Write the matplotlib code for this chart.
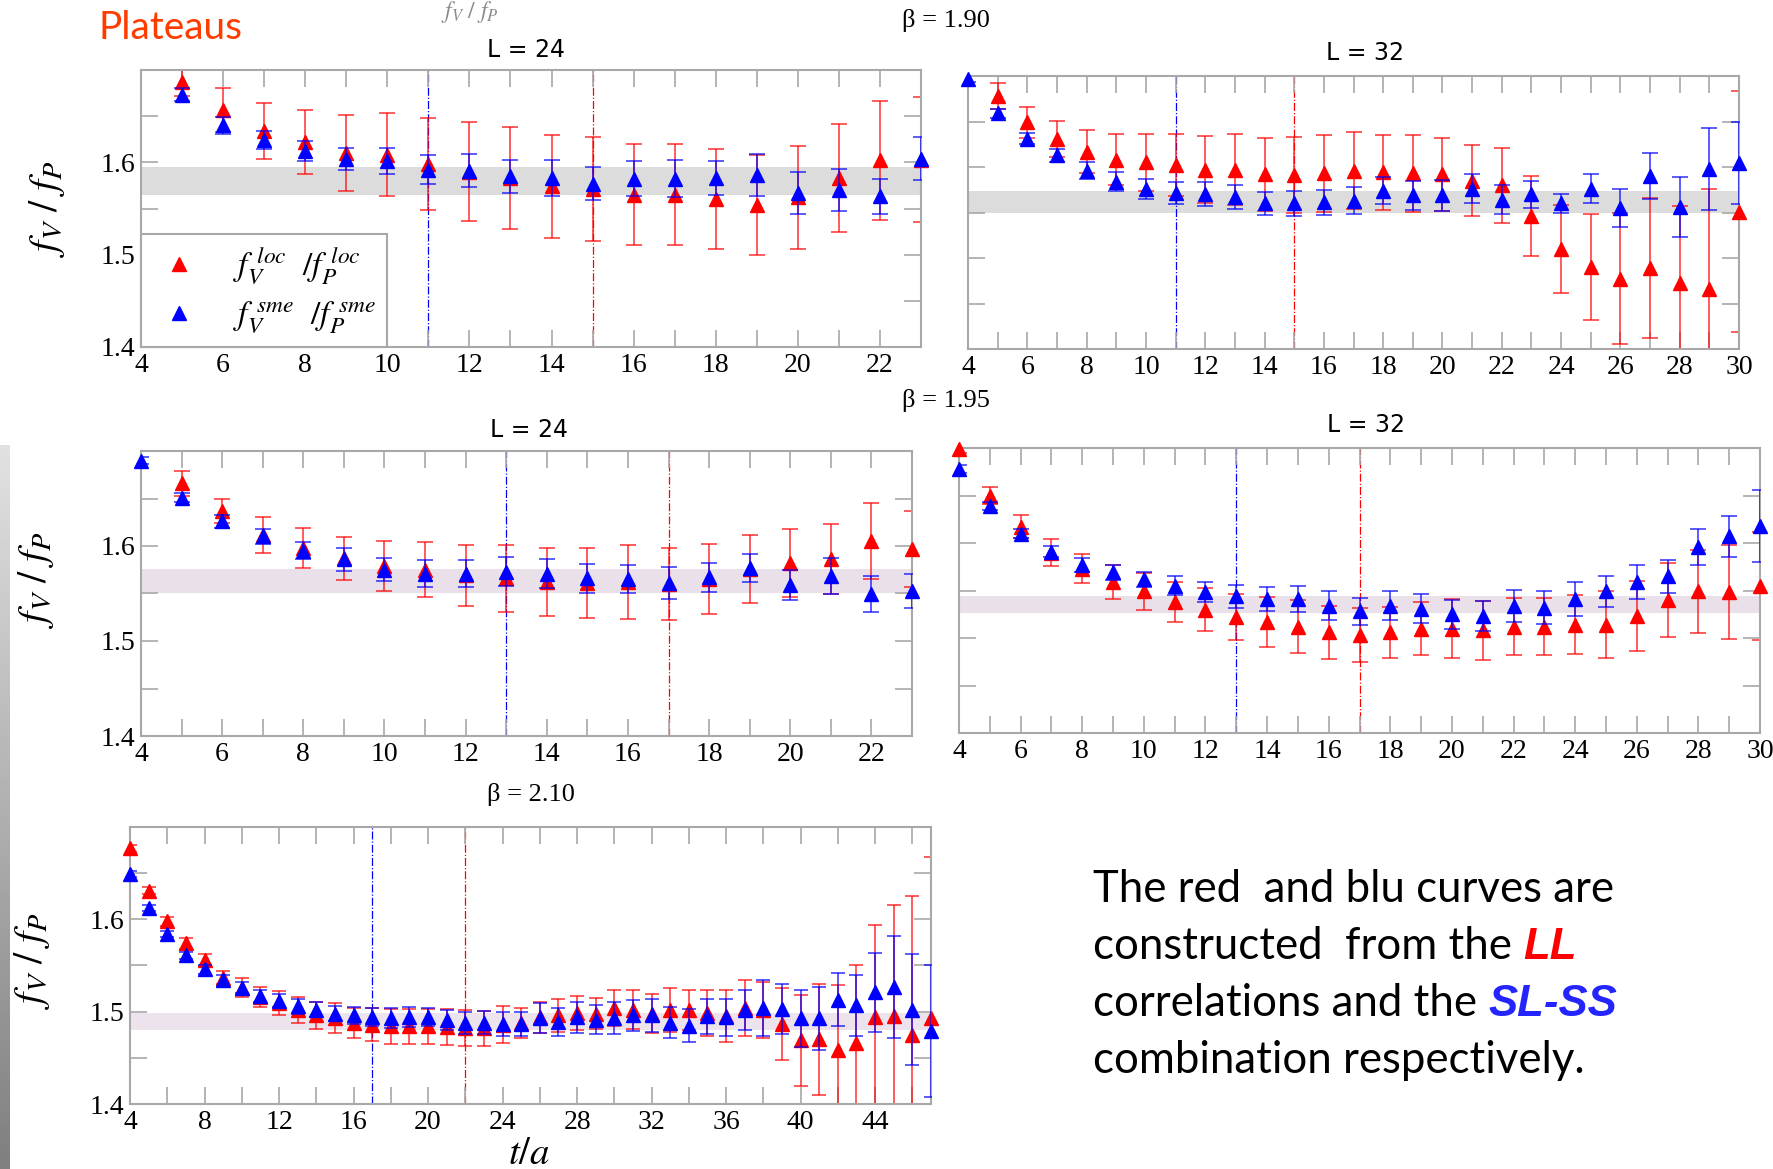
import numpy as np
import matplotlib.pyplot as plt
from matplotlib.lines import Line2D

W, H = 1773, 1169
plt.rcParams['mathtext.fontset'] = 'stix'

# beta = 1.90, L = 24
t_a = list(range(5, 24))
loc_a = [1.687, 1.657, 1.634, 1.622, 1.610, 1.608, 1.598, 1.590, 1.583, 1.574, 1.571,
         1.565, 1.565, 1.560, 1.554, 1.562, 1.583, 1.602, 1.603]
loc_a_err = [0.015, 0.024, 0.030, 0.035, 0.041, 0.045, 0.050, 0.054, 0.055, 0.056, 0.056,
             0.055, 0.055, 0.054, 0.054, 0.056, 0.058, 0.064, 0.068]
sme_a = [1.673, 1.640, 1.624, 1.612, 1.604, 1.601, 1.592, 1.591, 1.585, 1.583, 1.577,
         1.582, 1.582, 1.583, 1.586, 1.567, 1.570, 1.563, 1.604]
sme_a_err = [0.007, 0.009, 0.010, 0.011, 0.012, 0.014, 0.016, 0.018, 0.018, 0.019, 0.018,
             0.019, 0.020, 0.018, 0.023, 0.023, 0.023, 0.019, 0.023]

# beta = 1.90, L = 32
t_b_loc = list(range(5, 31))
t_b_sme = list(range(4, 31))
loc_b = [1.678, 1.649, 1.631, 1.617, 1.608, 1.605, 1.602, 1.597, 1.597, 1.592, 1.591, 1.593, 1.596,
         1.594, 1.593, 1.592, 1.585, 1.580, 1.546, 1.510, 1.490, 1.477, 1.489, 1.472, 1.466, 1.551]
loc_b_err = [0.014, 0.017, 0.020, 0.024, 0.028, 0.031, 0.034, 0.037, 0.039, 0.040, 0.042, 0.042, 0.042,
             0.041, 0.042, 0.040, 0.039, 0.041, 0.044, 0.048, 0.058, 0.072, 0.077, 0.085, 0.110, 0.132]
sme_b = [1.697, 1.659, 1.631, 1.613, 1.596, 1.584, 1.576, 1.571, 1.570, 1.567, 1.560, 1.560, 1.561, 1.563,
         1.574, 1.569, 1.569, 1.576, 1.564, 1.570, 1.560, 1.576, 1.555, 1.590, 1.556, 1.598, 1.604]
sme_b_err = [0.004, 0.005, 0.006, 0.007, 0.009, 0.010, 0.011, 0.012, 0.013, 0.013, 0.013, 0.014, 0.014, 0.015,
             0.015, 0.016, 0.017, 0.016, 0.016, 0.015, 0.010, 0.016, 0.021, 0.025, 0.033, 0.045, 0.045]

# beta = 1.95, L = 24
t_c_loc = list(range(5, 24))
t_c_sme = list(range(4, 24))
loc_c = [1.666, 1.637, 1.612, 1.598, 1.587, 1.579, 1.575, 1.569, 1.566, 1.562, 1.561,
         1.562, 1.560, 1.565, 1.576, 1.582, 1.586, 1.605, 1.597]
loc_c_err = [0.013, 0.013, 0.019, 0.021, 0.023, 0.026, 0.029, 0.032, 0.035, 0.036, 0.037,
             0.039, 0.038, 0.037, 0.036, 0.036, 0.037, 0.040, 0.040]
sme_c = [1.690, 1.651, 1.626, 1.610, 1.595, 1.586, 1.575, 1.571, 1.571, 1.573, 1.571,
         1.566, 1.565, 1.561, 1.567, 1.577, 1.559, 1.568, 1.549, 1.553]
sme_c_err = [0.004, 0.005, 0.007, 0.008, 0.009, 0.012, 0.012, 0.014, 0.014, 0.015, 0.015,
             0.015, 0.015, 0.017, 0.015, 0.015, 0.016, 0.019, 0.019, 0.018]

# beta = 1.95, L = 32
t_d = list(range(4, 31))
loc_d = [1.699, 1.650, 1.617, 1.590, 1.573, 1.559, 1.549, 1.538, 1.530, 1.522, 1.517, 1.512, 1.506, 1.503,
         1.506, 1.510, 1.510, 1.508, 1.512, 1.512, 1.514, 1.514, 1.523, 1.540, 1.549, 1.548, 1.555]
loc_d_err = [0.004, 0.009, 0.012, 0.014, 0.015, 0.0175, 0.019, 0.021, 0.023, 0.0245, 0.026, 0.028, 0.028, 0.0285,
             0.027, 0.028, 0.031, 0.031, 0.030, 0.030, 0.031, 0.035, 0.037, 0.0385, 0.0435, 0.0495, 0.057]
sme_d = [1.678, 1.639, 1.610, 1.591, 1.577, 1.569, 1.562, 1.555, 1.548, 1.544, 1.541, 1.541, 1.534, 1.528,
         1.534, 1.531, 1.525, 1.523, 1.534, 1.532, 1.541, 1.549, 1.559, 1.565, 1.596, 1.607, 1.618]
sme_d_err = [0.004, 0.004, 0.005, 0.006, 0.007, 0.008, 0.008, 0.010, 0.0105, 0.012, 0.013, 0.014, 0.0155, 0.0145,
             0.015, 0.015, 0.015, 0.0155, 0.017, 0.017, 0.0175, 0.016, 0.0175, 0.0175, 0.019, 0.0215, 0.038]

# beta = 2.10
t_e = list(range(4, 48))
loc_e = [1.677, 1.631, 1.598, 1.574, 1.556, 1.537, 1.526, 1.516, 1.509, 1.502, 1.496,
         1.493, 1.488, 1.486, 1.484, 1.484, 1.484, 1.483, 1.482, 1.482, 1.486, 1.488,
         1.494, 1.496, 1.499, 1.498, 1.504, 1.502, 1.498, 1.502, 1.502, 1.499, 1.495,
         1.504, 1.502, 1.487, 1.469, 1.470, 1.459, 1.466, 1.494, 1.495, 1.475, 1.493]
loc_e_err = [0.004, 0.004, 0.005, 0.006, 0.0065, 0.0075, 0.010, 0.011, 0.013, 0.014, 0.015,
             0.016, 0.0165, 0.018, 0.019, 0.019, 0.019, 0.0195, 0.0195, 0.019, 0.020, 0.016,
             0.017, 0.018, 0.0185, 0.017, 0.020, 0.021, 0.021, 0.0235, 0.022, 0.025, 0.028,
             0.030, 0.030, 0.039, 0.049, 0.060, 0.070, 0.085, 0.100, 0.120, 0.150, 0.175]
sme_e = [1.649, 1.612, 1.584, 1.561, 1.546, 1.534, 1.526, 1.517, 1.512, 1.506, 1.502,
         1.498, 1.496, 1.494, 1.493, 1.494, 1.494, 1.491, 1.488, 1.488, 1.487, 1.487,
         1.493, 1.489, 1.494, 1.4915, 1.493, 1.496, 1.496, 1.488, 1.485, 1.495, 1.494,
         1.502, 1.504, 1.503, 1.493, 1.493, 1.513, 1.507, 1.521, 1.527, 1.502, 1.479]
sme_e_err = [0.003, 0.003, 0.003, 0.004, 0.005, 0.006, 0.006, 0.007, 0.007, 0.008, 0.008,
             0.008, 0.009, 0.0095, 0.011, 0.011, 0.010, 0.011, 0.012, 0.0125, 0.013, 0.013,
             0.016, 0.015, 0.017, 0.016, 0.017, 0.017, 0.0175, 0.017, 0.018, 0.019, 0.020,
             0.022, 0.030, 0.027, 0.031, 0.034, 0.029, 0.033, 0.043, 0.055, 0.060, 0.071]

# plateau fits (low, high) and fit windows
bands = [(1.565, 1.595), (1.550, 1.574), (1.550, 1.576), (1.526, 1.544), (1.480, 1.499)]
windows = [(11, 15), (11, 15), (13, 17), (13, 17), (17, 22)]
band_colors = ['#dcdcdc', '#dcdcdc', '#e9e0e9', '#e9e0e9', '#ece3ec']

RED = '#ff0000'
BLUE = '#0000ff'
GRID = '#a8a8a8'
TICK_FONT = 'Liberation Serif'

fig = plt.figure(figsize=(W / 100, H / 100), dpi=100)


def px_axes(left, top, right, bottom):
    return fig.add_axes([left / W, 1 - bottom / H, (right - left) / W, (bottom - top) / H])


def panel(ax, tl, yl, el, ts, ys, es, band, win, bcol, xmax, xmajor, ms=10, cap=6, ylabels=True):
    ax.axhspan(band[0], band[1], color=bcol, lw=0, zorder=0)
    ax.axvline(win[0], color=BLUE, lw=0.9, ls='-.', zorder=1)
    ax.axvline(win[1], color=RED, lw=0.9, ls='-.', zorder=1)
    ax.errorbar(tl, yl, yerr=el, fmt='none', ecolor=RED, elinewidth=1.2, capsize=cap,
                capthick=1.2, alpha=0.75, zorder=2)
    ax.plot(tl, yl, '^', color=RED, ms=ms, mec=RED, zorder=3, clip_on=False)
    ax.errorbar(ts, ys, yerr=es, fmt='none', ecolor=BLUE, elinewidth=1.2, capsize=cap,
                capthick=1.2, alpha=0.75, zorder=4)
    ax.plot(ts, ys, '^', color=BLUE, ms=ms, mec=BLUE, zorder=5, clip_on=False)
    ax.set_xlim(4, xmax)
    ax.set_ylim(1.4, 1.7)
    ax.set_xticks(np.arange(4, xmax + 0.1, xmajor))
    ax.set_xticks(np.arange(4, xmax + 0.1, xmajor / 2), minor=True)
    ax.set_yticks([1.4, 1.5, 1.6])
    ax.set_yticks([1.45, 1.55, 1.65], minor=True)
    ax.tick_params(which='both', direction='in', length=12, width=1.2, color=GRID,
                   top=True, right=True, labelsize=20, pad=4, labelleft=ylabels)
    for lab in ax.get_xticklabels() + ax.get_yticklabels():
        lab.set_family(TICK_FONT)
    for s in ax.spines.values():
        s.set_color(GRID)
        s.set_linewidth(1.5)


ax1 = px_axes(141, 70, 921, 347)
panel(ax1, t_a, loc_a, loc_a_err, t_a, sme_a, sme_a_err, bands[0], windows[0], band_colors[0], 23, 2)
ax2 = px_axes(968, 76, 1739, 349)
panel(ax2, t_b_loc, loc_b, loc_b_err, t_b_sme, sme_b, sme_b_err, bands[1], windows[1], band_colors[1], 30, 2,
      ylabels=False)
ax3 = px_axes(141, 451, 912, 736)
panel(ax3, t_c_loc, loc_c, loc_c_err, t_c_sme, sme_c, sme_c_err, bands[2], windows[2], band_colors[2], 23, 2)
ax4 = px_axes(959, 448, 1760, 733)
panel(ax4, t_d, loc_d, loc_d_err, t_d, sme_d, sme_d_err, bands[3], windows[3], band_colors[3], 30, 2,
      ylabels=False)
ax5 = px_axes(130, 827, 931, 1104)
panel(ax5, t_e, loc_e, loc_e_err, t_e, sme_e, sme_e_err, bands[4], windows[4], band_colors[4], 47, 4,
      ms=9.5, cap=5)

# legend
handles = [Line2D([], [], ls='none', marker='^', color=RED, ms=10),
           Line2D([], [], ls='none', marker='^', color=BLUE, ms=10)]
leg = ax1.legend(handles, [r'$f_V^{\ loc}\ \ /f_P^{\ loc}$', r'$f_V^{\ sme}\ \ /f_P^{\ sme}$'],
                 loc='lower left', bbox_to_anchor=(0, 0), borderaxespad=0, fontsize=24,
                 fancybox=False, framealpha=1, edgecolor=GRID, handletextpad=0.8,
                 borderpad=0.35, labelspacing=0.35, handlelength=1.6)
leg.get_frame().set_linewidth(1.5)

# titles and labels
fig.text(98 / W, 1 - 28 / H, 'Plateaus', color='#ff3c00', fontsize=28, family='Lato', va='center')
beta_pos = [(946, 21, r'β = 1.90'), (946, 400, r'β = 1.95'), (531, 795, r'β = 2.10')]
for x, y, s in beta_pos:
    fig.text(x / W, 1 - y / H, s, fontsize=19, family=TICK_FONT, ha='center', va='center')
L_pos = [(526, 50, 'L = 24'), (1365, 53, 'L = 32'), (529, 430, 'L = 24'), (1366, 425, 'L = 32')]
for x, y, s in L_pos:
    fig.text(x / W, 1 - y / H, s, fontsize=17, family=['Liberation Sans Narrow', 'DejaVu Sans'],
             ha='center', va='center')
for x, y in [(47, 209), (36, 580), (32, 961)]:
    fig.text(x / W, 1 - y / H, r'$f_V\ /\ f_P$', fontsize=29, rotation=90, ha='center', va='center')
fig.text(529 / W, 1 - 1153 / H, r'$t/a$', fontsize=28, ha='center', va='center')

# faded slide title
fig.text(470 / W, 1 - 12 / H, r'$f_V\ /\ f_P$', fontsize=17, color='#8a8a8a', ha='center', va='center')

# slide edge shade
edge = fig.add_axes([0, 0, 10 / W, (H - 445) / H])
edge.imshow(np.linspace(0.88, 0.5, 100).reshape(-1, 1), cmap='gray', vmin=0, vmax=1, aspect='auto')
edge.set_axis_off()

# note text
note_lines = [
    [('The red  and blu curves are', 'black', False)],
    [('constructed  from the ', 'black', False), ('LL', '#ff0000', True)],
    [('correlations and the ', 'black', False), ('SL-SS', '#2424ff', True)],
    [('combination respectively.', 'black', False)],
]
note_base = [902, 959, 1016, 1073]
renderer = fig.canvas.get_renderer()
for parts, yb in zip(note_lines, note_base):
    x = 1093
    for s, c, em in parts:
        if em:
            t = fig.text(x / W, 1 - yb / H, s, color=c, fontsize=31.5, family='Liberation Sans',
                         weight='bold', style='italic', va='baseline')
        else:
            t = fig.text(x / W, 1 - yb / H, s, color=c, fontsize=31.5, family='Lato', va='baseline')
        x = t.get_window_extent(renderer=renderer).x1

fig.savefig('out.png', dpi=100)
